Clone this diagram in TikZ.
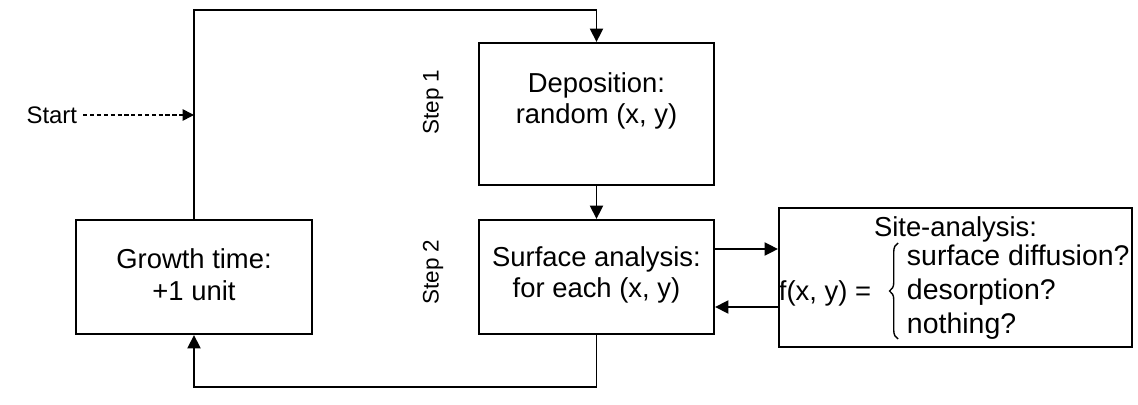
\documentclass[tikz,border=0pt]{standalone}
\usepackage{fontspec}
\setmainfont{Liberation Sans}
\usetikzlibrary{arrows.meta,decorations.pathreplacing,calc}
\begin{document}
\begin{tikzpicture}[x=0.02cm,y=-0.02cm,
  line width=1.1pt,
  box/.style={draw, rectangle, line width=1.2pt, inner sep=0pt},
  boxtext/.style={align=center, inner sep=0pt, font=\fontsize{15.6pt}{18.1pt}\selectfont},
  steplabel/.style={rotate=90, inner sep=0pt, font=\fontsize{12.8pt}{15pt}\selectfont},
  arr/.style={-{Triangle[length=7.6pt,width=7.4pt]}},
  startarr/.style={-{Triangle[length=6.5pt,width=6.5pt]}, line width=0.9pt, dash pattern=on 2.4pt off 1.5pt}]
\useasboundingbox (0,0) rectangle (1138,405);
% boxes
\node[box, minimum width=4.72cm, minimum height=2.28cm] (growth) at (194,277) {};
\node[boxtext] (growthtxt) at (194,275) {Growth time:\\+1 unit};
\node[box, minimum width=4.7cm, minimum height=2.84cm] (dep) at (596.5,114) {};
\node[boxtext] (deptxt) at (596.5,101) {Deposition:\\random (x, y)};
\node[box, minimum width=4.7cm, minimum height=2.28cm] (surf) at (596.5,277) {};
\node[boxtext] (surftxt) at (596.5,275) {Surface analysis:\\for each (x, y)};
\node[box, minimum width=7.06cm, minimum height=2.78cm] (site) at (955.5,277.5) {};
% site content
\node[boxtext] (sitetitle) at (955.5,229) {Site-analysis:};
\node[boxtext, anchor=east] (fxy) at (872,293) {f(x, y) =};
\node[anchor=west, inner sep=0pt, align=left, font=\fontsize{16.2pt}{19.3pt}\selectfont] (opts) at (906,292.5) {surface diffusion?\\desorption?\\nothing?};
\coordinate (braceb) at (898,339);
\coordinate (bracet) at (898,243);
\draw[line width=0.8pt, decorate, decoration={brace, amplitude=0.17cm}] (braceb) -- (bracet);
% step labels
\node[steplabel] (step1) at (433,102) {Step 1};
\node[steplabel] (step2) at (433,272) {Step 2};
% start
\node[inner sep=0pt, anchor=east, font=\fontsize{13.6pt}{16pt}\selectfont] (start) at (78,115) {Start};
\draw[startarr] ([xshift=3pt]start.east) -- (start.east -| growth.north);
% loops
\coordinate (topleft) at (194,10);
\draw[arr] (growth.north) -- (topleft) -| (dep.north);
\draw[arr] (dep.south) -- (surf.north);
\coordinate (botleft) at (194,387);
\draw[arr] (surf.south) |- (botleft) -- (growth.south);
\draw[arr] ([yshift=0.56cm]surf.east) -- ([yshift=0.56cm]surf.east -| site.west);
\draw[arr] ([yshift=-0.6cm]surf.east -| site.west) -- ([yshift=-0.6cm]surf.east);
\end{tikzpicture}
\end{document}
